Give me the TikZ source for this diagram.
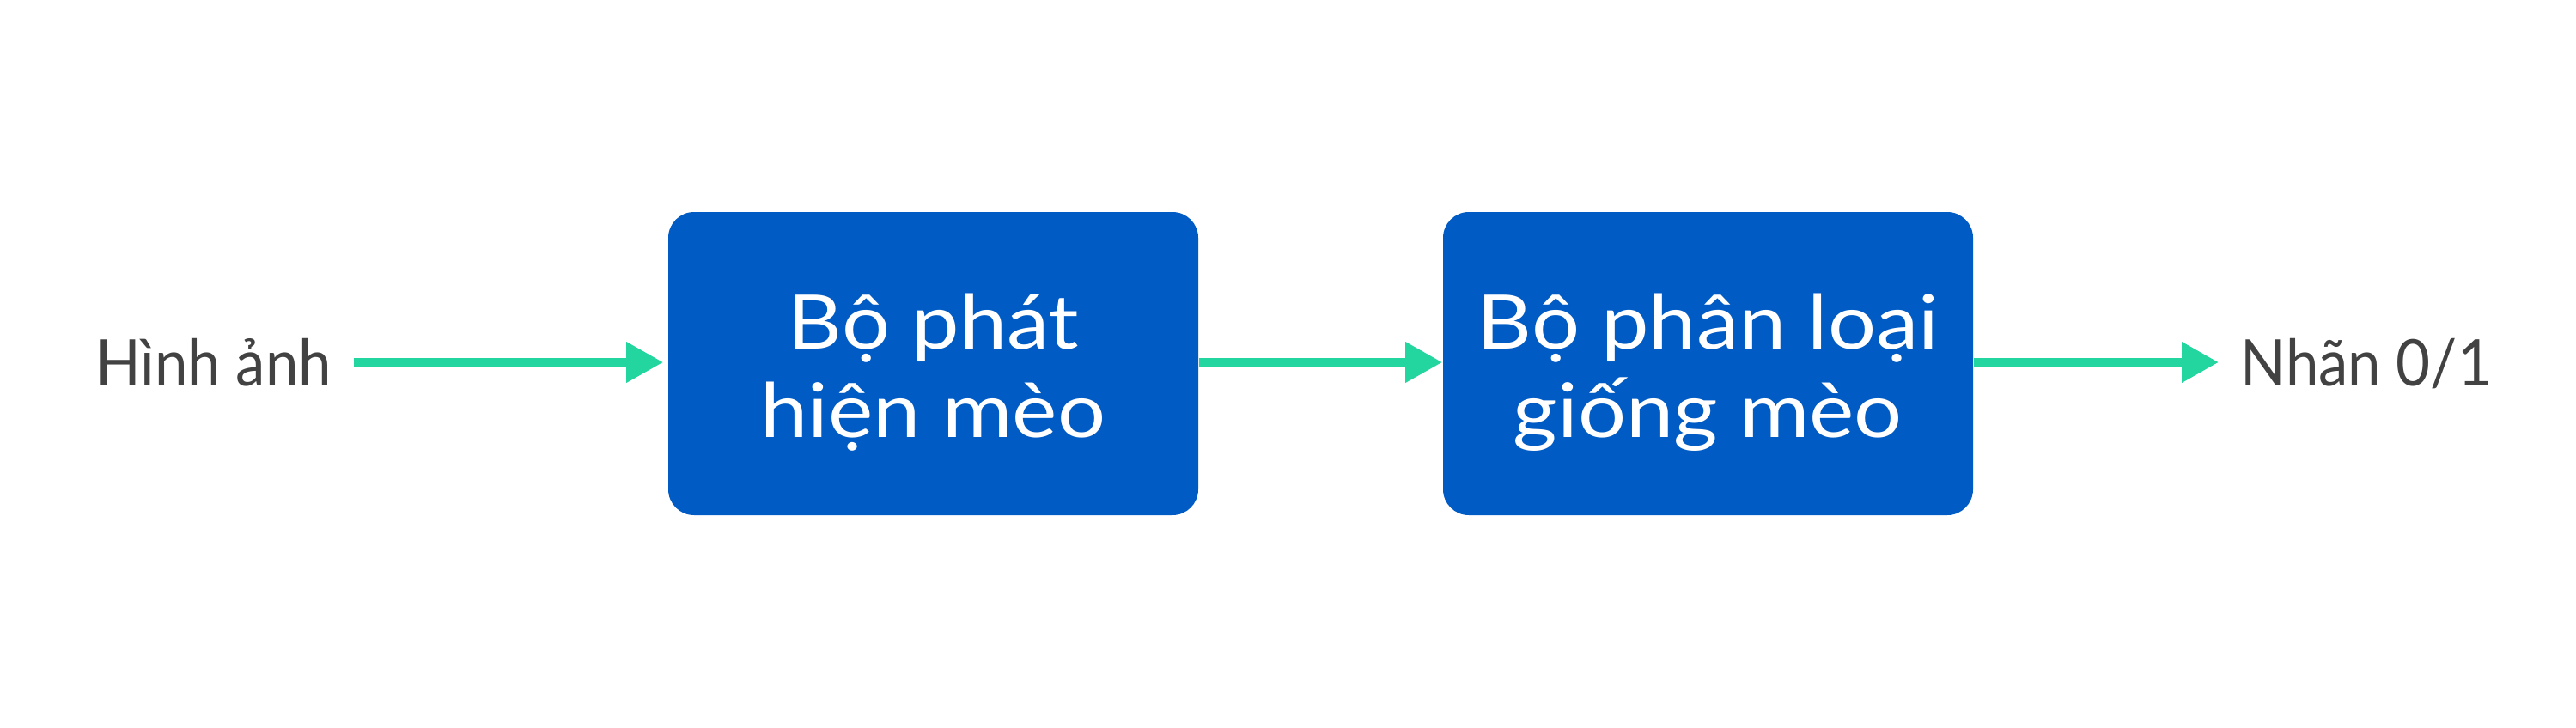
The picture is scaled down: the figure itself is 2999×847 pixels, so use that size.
\documentclass[tikz,border=0pt]{standalone}
\usepackage{fontspec}
\usepackage{graphicx}
\setmainfont{Lato}
\usetikzlibrary{arrows.meta}
\definecolor{boxblue}{HTML}{005BC4}
\definecolor{arrowgreen}{HTML}{23D6A0}
\definecolor{labelgray}{HTML}{424242}
\newcommand{\boxlines}[1]{\scalebox{1.13}[1]{\begin{tabular}[b]{@{}c@{}}#1\end{tabular}}}
\newcommand{\iotext}[1]{\scalebox{0.92}[1]{#1}}
\tikzset{
  x=0.25pt, y=-0.25pt,
  procbox/.style={fill=boxblue, draw=none, rounded corners=7.5pt,
    minimum width=154.25pt, minimum height=88.25pt, inner sep=0pt,
    text=white,
    font=\fontsize{21.9}{25.75}\selectfont,
    text height=47.75pt, text depth=5pt},
  iolabel/.style={text=labelgray, font=\fontsize{18.75}{22}\selectfont,
    inner xsep=6.25pt, inner ysep=0pt, text height=13.5pt, text depth=0pt},
  flow/.style={draw=arrowgreen, line width=2.5pt,
    -{Triangle[length=10.75pt,width=11.25pt]}}
}
\begin{document}
\begin{tikzpicture}
\useasboundingbox (0,0) rectangle (2999,847);
\node[procbox] (b1) at (1086.5,423.5) {\boxlines{Bộ phát\\hiện mèo}};
\node[procbox] (b2) at (1988.5,423.5) {\boxlines{Bộ phân loại\\giống mèo}};
\node[iolabel, anchor=east] (in) at (412,422) {\iotext{Hình ảnh}};
\node[iolabel, anchor=west] (out) at (2583,422) {\iotext{Nhãn 0/1}};
\draw[flow, shorten >=1.25pt] (in.east) -- (b1.west |- in.east);
\draw[flow] (b1.east |- in.east) -- (b2.west |- in.east);
\draw[flow] (b2.east |- in.east) -- (out.west);
\end{tikzpicture}
\end{document}
